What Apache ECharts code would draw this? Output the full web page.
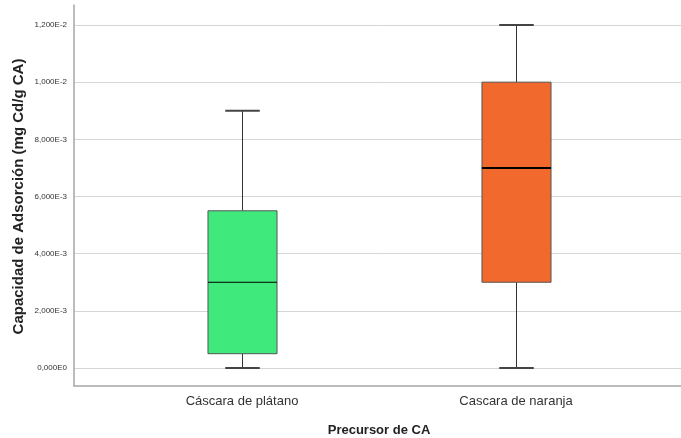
<!DOCTYPE html>
<html>
<head>
<meta charset="utf-8">
<script src="https://cdn.jsdelivr.net/npm/echarts@6/dist/echarts.min.js"></script>
<style>
html,body{margin:0;padding:0;background:#fff;}
#chart{width:681px;height:438px;}
</style>
</head>
<body>
<div id="chart"></div>
<script>
// ---- data ----
const categories = ['Cáscara de plátano', 'Cascara de naranja'];
const minVals    = [0, 0];
const q1Vals     = [0.0005, 0.003];
const medianVals = [0.003, 0.007];
const q3Vals     = [0.0055, 0.010];
const maxVals    = [0.009, 0.012];
const yTickMin = 0, yTickMax = 0.012, yTickStep = 0.002;
const xTitle = 'Precursor de CA';
const yTitle = 'Capacidad de Adsorción (mg Cd/g CA)';

// ---- styles ----
const boxColors = ['#40E97B', '#F2692D'];
const medianWidths = [1, 2];
const FONT = '"Liberation Sans", Arial, sans-serif';

function fmtSci(v) {
  if (Math.abs(v) < 1e-12) return '0,000E0';
  const e = Math.floor(Math.log10(Math.abs(v)) + 1e-9);
  const m = v / Math.pow(10, e);
  return m.toFixed(3).replace('.', ',') + 'E' + e;
}

const boxData = categories.map((c, i) => [i, minVals[i], q1Vals[i], medianVals[i], q3Vals[i], maxVals[i]]);

const chart = echarts.init(document.getElementById('chart'), null, {renderer: 'canvas'});

const option = {
  animation: false,
  backgroundColor: '#fff',
  grid: [
    // frame grid (axis lines)
    {left: 74, right: 0, top: 5, bottom: 52, outerBoundsMode: 'none', containLabel: false},
    // gridline/label grid
    {left: 74, right: 0, top: 25, bottom: 70, outerBoundsMode: 'none', containLabel: false},
    // data grid
    {left: 105, right: 28, top: 25, bottom: 70, outerBoundsMode: 'none', containLabel: false}
  ],
  xAxis: [
    {gridIndex: 0, type: 'category', data: [''], axisLine: {show: true, lineStyle: {color: '#a6a6a6', width: 1.5}},
     axisTick: {show: false}, axisLabel: {show: false}, splitLine: {show: false}},
    {gridIndex: 1, type: 'value', show: false},
    {gridIndex: 2, type: 'category', data: categories,
     axisLine: {show: false}, axisTick: {show: false},
     axisLabel: {margin: 27, fontSize: 13, color: '#333', fontFamily: FONT},
     name: xTitle, nameLocation: 'middle', nameGap: 56, nameMoveOverlap: false,
     nameTextStyle: {fontSize: 13, fontWeight: 'bold', color: '#222', fontFamily: FONT}}
  ],
  yAxis: [
    {gridIndex: 0, type: 'value', min: 0, max: 1,
     axisLine: {show: true, lineStyle: {color: '#a6a6a6', width: 1.5}},
     axisTick: {show: false}, axisLabel: {show: false}, splitLine: {show: false}},
    {gridIndex: 1, type: 'value', min: yTickMin, max: yTickMax, interval: yTickStep,
     axisLine: {show: false}, axisTick: {show: false},
     axisLabel: {formatter: fmtSci, fontSize: 8, color: '#333', margin: 7, fontFamily: FONT},
     splitLine: {show: true, lineStyle: {color: '#d6d6d6', width: 1}},
     name: yTitle, nameLocation: 'middle', nameGap: 48, nameMoveOverlap: false,
     nameTextStyle: {fontSize: 15, fontWeight: 'bold', color: '#222', fontFamily: FONT}},
    {gridIndex: 2, type: 'value', min: yTickMin, max: yTickMax, show: false}
  ],
  series: [{
    type: 'custom',
    xAxisIndex: 2,
    yAxisIndex: 2,
    data: boxData,
    encode: {x: 0, y: [1, 2, 3, 4, 5]},
    renderItem: function (params, api) {
      const idx = api.value(0);
      const pMin = api.coord([idx, api.value(1)]);
      const pQ1 = api.coord([idx, api.value(2)]);
      const pMed = api.coord([idx, api.value(3)]);
      const pQ3 = api.coord([idx, api.value(4)]);
      const pMax = api.coord([idx, api.value(5)]);
      const band = api.size([1, 0])[0];
      const boxW = band * 0.252;
      const capW = boxW / 2;
      const cx = Math.round(pMed[0]) + 0.5;
      const di = params.dataIndex;
      const whisker = {stroke: '#333', lineWidth: 1};
      const cap = {stroke: '#444', lineWidth: 2};
      return {
        type: 'group',
        children: [
          {type: 'line', shape: {x1: cx, y1: pMax[1], x2: cx, y2: pQ3[1]}, style: whisker},
          {type: 'line', shape: {x1: cx, y1: pQ1[1], x2: cx, y2: pMin[1]}, style: whisker},
          {type: 'line', shape: {x1: cx - capW / 2, y1: pMax[1], x2: cx + capW / 2, y2: pMax[1]}, style: cap},
          {type: 'line', shape: {x1: cx - capW / 2, y1: pMin[1], x2: cx + capW / 2, y2: pMin[1]}, style: cap},
          {type: 'rect', shape: {x: cx - boxW / 2, y: pQ3[1], width: boxW, height: pQ1[1] - pQ3[1]},
           style: {fill: boxColors[di], stroke: '#555', lineWidth: 1}},
          {type: 'line', shape: {x1: cx - boxW / 2, y1: pMed[1], x2: cx + boxW / 2, y2: pMed[1]},
           style: {stroke: '#000', lineWidth: medianWidths[di]}}
        ]
      };
    }
  }]
};
chart.setOption(option);
</script>
</body>
</html>
